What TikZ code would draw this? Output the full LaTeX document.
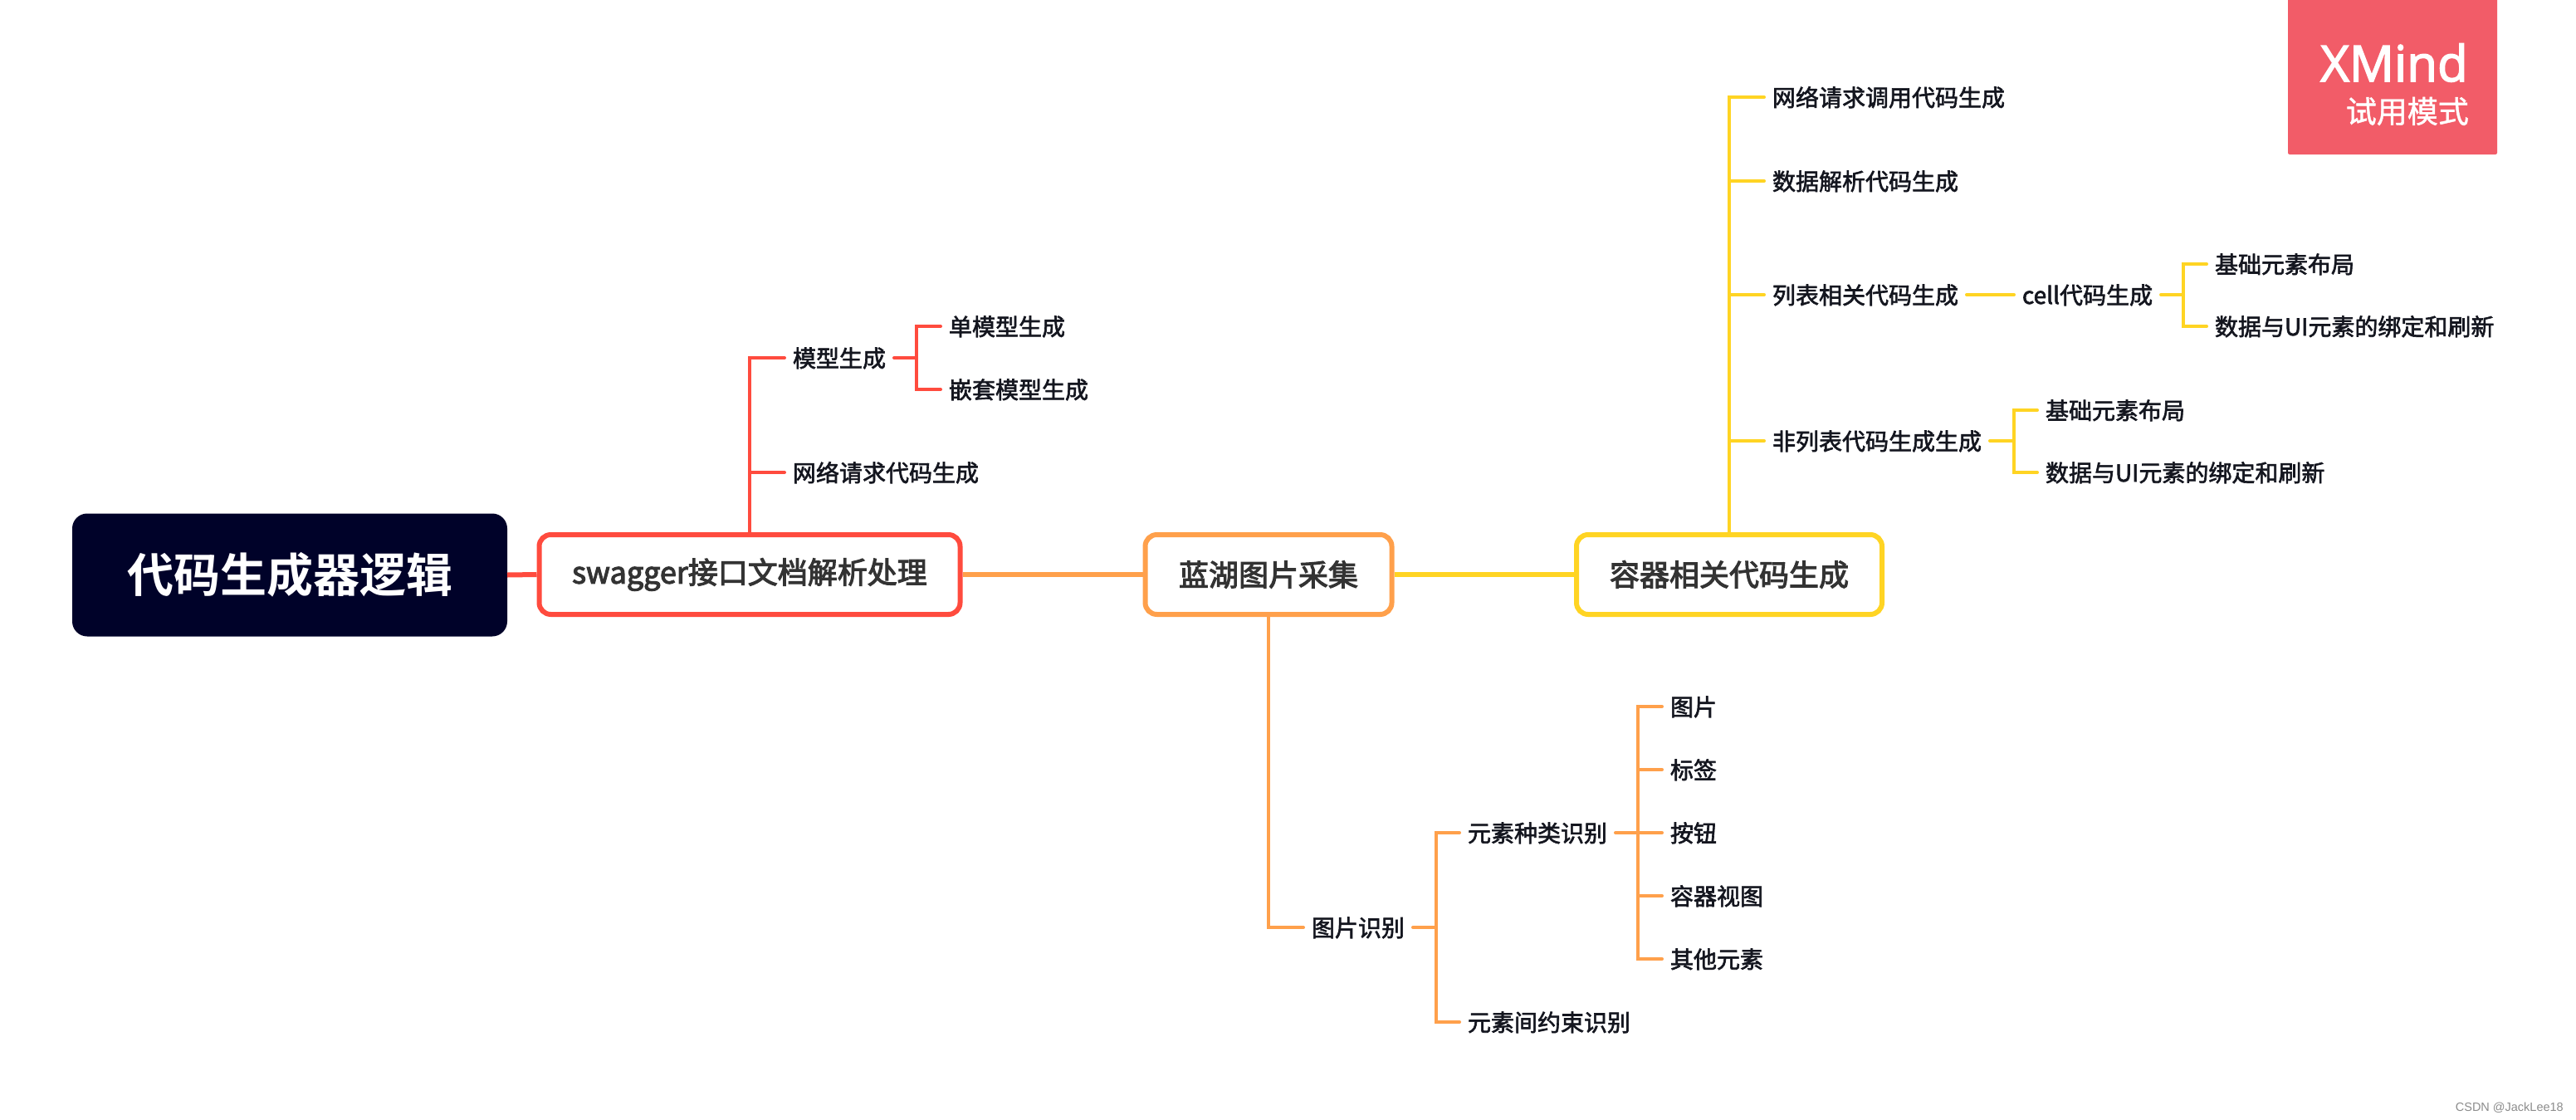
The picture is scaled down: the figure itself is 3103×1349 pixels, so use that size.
\documentclass[tikz,border=0pt]{standalone}
\usepackage{fontspec}
\setmainfont{Noto Sans CJK SC}[FakeBold=2.2]
\newfontfamily\topfont{Noto Sans CJK SC}[FakeBold=3]
\newfontfamily\cjkreg{Noto Sans CJK SC}[FakeBold=1.2]
\newfontfamily\cjkbold{Noto Sans CJK SC}[BoldFont={* Bold}]
\newfontfamily\wmfont{Liberation Sans}
\newfontfamily\logofont{Open Sans}[FakeBold=2.5]
\definecolor{rootc}{HTML}{000229}
\definecolor{redc}{HTML}{FF4B3E}
\definecolor{orgc}{HTML}{FFA04B}
\definecolor{yelc}{HTML}{FFD423}
\definecolor{xmc}{HTML}{F25C68}
\definecolor{leaftxt}{HTML}{14161F}
\definecolor{toptxt}{HTML}{333333}
\tikzset{
  x=1pt,y=-1pt,
  leaf/.style={anchor=west,inner xsep=10pt,inner ysep=0pt,outer sep=0pt,text=leaftxt,
    text height=25pt,text depth=3pt,font=\fontsize{28}{28}\selectfont},
  topic/.style={rounded corners=14pt,line width=6pt,fill=white,minimum height=96pt,inner sep=0pt,outer sep=3pt,
    text=toptxt,font=\topfont\fontsize{36}{36}\selectfont,anchor=center},
  rootbox/.style={rounded corners=18pt,fill=rootc,text=white,minimum width=524pt,minimum height=148pt,inner sep=0pt,outer sep=0pt,
    font=\cjkbold\bfseries\fontsize{56}{56}\selectfont},
  link/.style={line width=4pt,line cap=round},
  trunk/.style={line width=6pt},
  xmbox/.style={fill=xmc,rounded corners=2pt,minimum width=252pt,minimum height=190pt,inner sep=0pt,outer sep=0pt},
}
\begin{document}
\begin{tikzpicture}
\useasboundingbox (0,0) rectangle (3103,1349);
\fill[white] (0,0) rectangle (3103,1349);

% logo
\node[xmbox] (logo) at (2882,91) {};
\node[text=white,inner sep=0pt,anchor=base east,font=\logofont\fontsize{60}{60}\selectfont] (xmtext) at (2973,98) {XMind};
\node[text=white,inner sep=0pt,anchor=base east,font=\cjkreg\fontsize{37}{37}\selectfont] (xmsub) at (2974,148) {试用模式};

% main nodes
\node[rootbox] (root) at (349,692.5) {代码生成器逻辑};
\node[topic,draw=redc,minimum width=507pt] (sw) at (903,692) {swagger接口文档解析处理};
\node[topic,draw=orgc,minimum width=297pt] (lan) at (1528,692) {蓝湖图片采集};
\node[topic,draw=yelc,minimum width=368pt] (con) at (2083,692) {容器相关代码生成};

\draw[trunk,redc] (root.east) -- (sw.west);
\draw[trunk,orgc] (sw.east) -- (lan.west);
\draw[trunk,yelc] (lan.east) -- (con.west);

% red branch
\node[leaf] (m) at (945,431) {模型生成};
\node[leaf] (ms) at (1133,393) {单模型生成};
\node[leaf] (mn) at (1133,469) {嵌套模型生成};
\node[leaf] (net) at (945,569) {网络请求代码生成};
\coordinate (jm) at (1104,431);
\draw[link,redc] (sw.north) |- (m.west);
\draw[link,redc] (sw.north) |- (net.west);
\draw[link,redc] (m.east) -- (jm);
\draw[link,redc] (jm) |- (ms.west);
\draw[link,redc] (jm) |- (mn.west);

% orange branch
\node[leaf] (pic) at (1570,1117) {图片识别};
\node[leaf] (kind) at (1758,1003) {元素种类识别};
\node[leaf] (cons) at (1758,1231) {元素间约束识别};
\node[leaf] (a1) at (2002,851) {图片};
\node[leaf] (a2) at (2002,927) {标签};
\node[leaf] (a3) at (2002,1003) {按钮};
\node[leaf] (a4) at (2002,1079) {容器视图};
\node[leaf] (a5) at (2002,1155) {其他元素};
\coordinate (jp) at (1730,1117);
\coordinate (jk) at (1973,1003);
\draw[link,orgc] (lan.south) |- (pic.west);
\draw[link,orgc] (pic.east) -- (jp);
\draw[link,orgc] (jp) |- (kind.west);
\draw[link,orgc] (jp) |- (cons.west);
\draw[link,orgc] (kind.east) -- (a3.west);
\draw[link,orgc] (jk) |- (a1.west);
\draw[link,orgc] (jk) |- (a2.west);
\draw[link,orgc] (jk) |- (a4.west);
\draw[link,orgc] (jk) |- (a5.west);

% yellow branch
\node[leaf] (y1) at (2125,117) {网络请求调用代码生成};
\node[leaf] (y2) at (2125,218) {数据解析代码生成};
\node[leaf] (y3) at (2125,355) {列表相关代码生成};
\node[leaf] (y4) at (2125,531) {非列表代码生成生成};
\node[leaf] (cell) at (2426,355) {cell代码生成};
\node[leaf] (c1) at (2658,318) {基础元素布局};
\node[leaf] (c2) at (2658,393) {数据与UI元素的绑定和刷新};
\node[leaf] (n1) at (2454,494) {基础元素布局};
\node[leaf] (n2) at (2454,569) {数据与UI元素的绑定和刷新};
\coordinate (jc) at (2630,355);
\coordinate (jn) at (2426,531);
\draw[link,yelc] (con.north) |- (y1.west);
\draw[link,yelc] (con.north) |- (y2.west);
\draw[link,yelc] (con.north) |- (y3.west);
\draw[link,yelc] (con.north) |- (y4.west);
\draw[link,yelc] (y3.east) -- (cell.west);
\draw[link,yelc] (cell.east) -- (jc);
\draw[link,yelc] (jc) |- (c1.west);
\draw[link,yelc] (jc) |- (c2.west);
\draw[link,yelc] (y4.east) -- (jn);
\draw[link,yelc] (jn) |- (n1.west);
\draw[link,yelc] (jn) |- (n2.west);

% watermark
\node[text=black!45,inner sep=0pt,anchor=east,font=\wmfont\fontsize{14.5}{14.5}\selectfont] (wm) at (3088,1334) {CSDN @JackLee18};
\end{tikzpicture}
\end{document}
